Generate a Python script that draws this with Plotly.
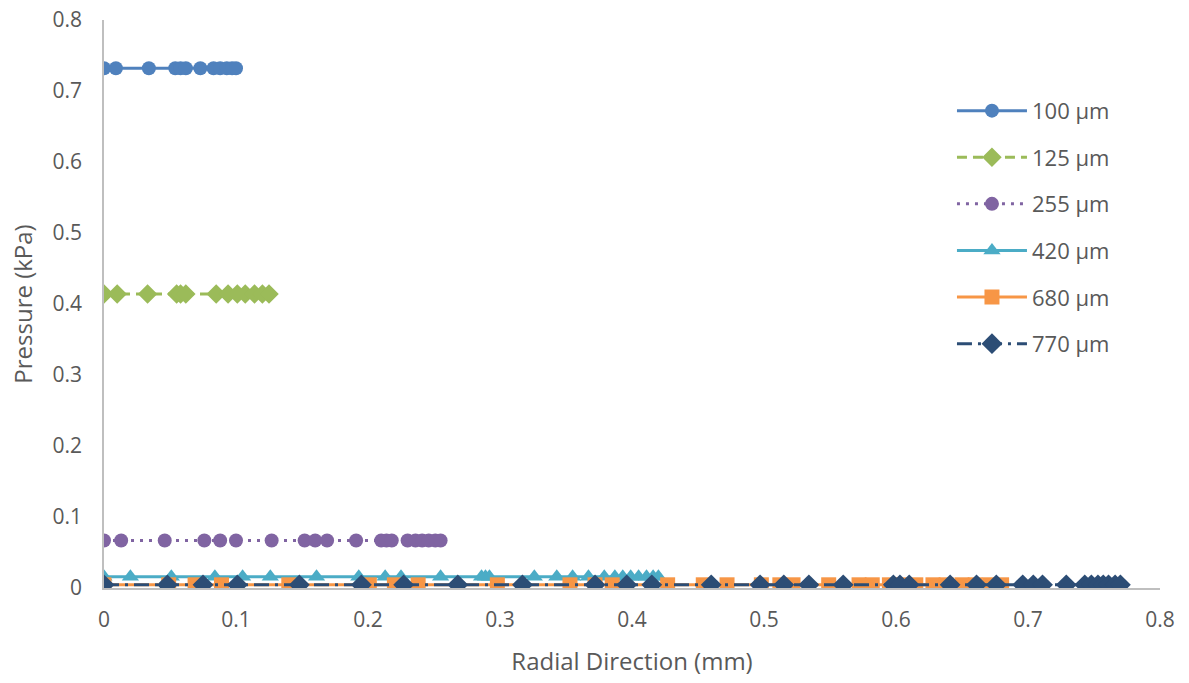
import plotly.graph_objects as go

# Radial positions (mm) and pressures (kPa) for each channel width
r_100 = [0, 0.009, 0.034, 0.054, 0.058, 0.062, 0.073, 0.083, 0.088, 0.093, 0.097, 0.1]
p_100 = [0.732] * len(r_100)

r_125 = [0, 0.010, 0.033, 0.055, 0.058, 0.062, 0.085, 0.094, 0.101, 0.107, 0.114, 0.120, 0.125]
p_125 = [0.414] * len(r_125)

r_255 = [0, 0.013, 0.046, 0.076, 0.088, 0.100, 0.127, 0.152, 0.160, 0.169, 0.191,
         0.210, 0.214, 0.218, 0.230, 0.236, 0.241, 0.246, 0.251, 0.255]
p_255 = [0.067] * len(r_255)

r_420 = [0, 0.020, 0.051, 0.084, 0.105, 0.126, 0.161, 0.193, 0.213, 0.225, 0.255,
         0.286, 0.289, 0.292, 0.326, 0.343, 0.355, 0.367, 0.379, 0.387, 0.393,
         0.399, 0.405, 0.411, 0.416, 0.420]
p_420 = [0.016] * len(r_420)

r_680 = [0, 0.049, 0.069, 0.089, 0.140, 0.201, 0.220, 0.238, 0.298, 0.353, 0.372,
         0.385, 0.427, 0.454, 0.472, 0.498, 0.512, 0.522, 0.549, 0.572, 0.582,
         0.595, 0.605, 0.615, 0.628, 0.638, 0.650, 0.660, 0.671, 0.680]
p_680 = [0.0045] * len(r_680)

r_770 = [0, 0.048, 0.075, 0.101, 0.148, 0.195, 0.227, 0.268, 0.317, 0.372, 0.396,
         0.415, 0.460, 0.497, 0.515, 0.534, 0.560, 0.598, 0.603, 0.610, 0.641,
         0.661, 0.676, 0.696, 0.704, 0.711, 0.729, 0.743, 0.748, 0.753, 0.757,
         0.761, 0.766, 0.770]
p_770 = [0.0045] * len(r_770)

x_ticks = [0, 0.1, 0.2, 0.3, 0.4, 0.5, 0.6, 0.7, 0.8]
x_tick_text = ["0", "0.1", "0.2", "0.3", "0.4", "0.5", "0.6", "0.7", "0.8"]
y_ticks = [0, 0.1, 0.2, 0.3, 0.4, 0.5, 0.6, 0.7, 0.8]
y_tick_text = ["0", "0.1", "0.2", "0.3", "0.4", "0.5", "0.6", "0.7", "0.8"]

series = [
    ("100 µm", r_100, p_100, "#4F81BD", "solid", "circle", 14),
    ("125 µm", r_125, p_125, "#9BBB59", "10px,6px", "diamond", 15),
    ("255 µm", r_255, p_255, "#8064A2", "3px,6px", "circle", 14),
    ("420 µm", r_420, p_420, "#4BACC6", "solid", "triangle-up", 15),
    ("680 µm", r_680, p_680, "#F79646", "solid", "square", 15),
    ("770 µm", r_770, p_770, "#2C4D75", "15px,6px,3px,6px", "diamond", 16),
]

FONT = "Open Sans, Segoe UI, sans-serif"
TEXT = "#595959"
TICK_SIZE = 21
LEGEND_SIZE = 22
TITLE_SIZE = 24

fig = go.Figure()
for name, xs, ys, color, dash, symbol, size in series:
    fig.add_trace(go.Scatter(
        x=xs, y=ys, name=name, legendgroup=name, mode="lines+markers",
        line=dict(color=color, width=3, dash=dash),
        marker=dict(color=color, symbol=symbol, size=size, line=dict(width=0)),
    ))

fig.update_layout(
    width=1189, height=683,
    margin=dict(l=104, r=29, t=20, b=95),
    paper_bgcolor="white", plot_bgcolor="white",
    font=dict(family=FONT, size=LEGEND_SIZE, color=TEXT),
    showlegend=True,
    legend=dict(
        x=0.803, y=0.877, xanchor="left", yanchor="top",
        font=dict(family=FONT, size=LEGEND_SIZE, color=TEXT),
        tracegroupgap=15, itemwidth=70, bgcolor="rgba(0,0,0,0)",
    ),
    xaxis=dict(
        range=[0, 0.8], tickvals=x_ticks, ticktext=x_tick_text,
        showgrid=False, zeroline=False, automargin=False,
        showline=True, linecolor="#BFBFBF", linewidth=1.5,
        ticks="", ticklabelstandoff=12,
        tickfont=dict(family=FONT, size=TICK_SIZE, color=TEXT),
        title=dict(text="Radial Direction (mm)", font=dict(family=FONT, size=TITLE_SIZE, color=TEXT), standoff=21),
    ),
    yaxis=dict(
        range=[0, 0.8], tickvals=y_ticks, ticktext=y_tick_text,
        showgrid=False, zeroline=False, automargin=False,
        showline=True, linecolor="#BFBFBF", linewidth=1.5,
        ticks="", ticklabelstandoff=16,
        tickfont=dict(family=FONT, size=TICK_SIZE, color=TEXT),
        title=dict(text="Pressure (kPa)", font=dict(family=FONT, size=TITLE_SIZE, color=TEXT), standoff=13),
    ),
)

fig.write_html("out.html")
